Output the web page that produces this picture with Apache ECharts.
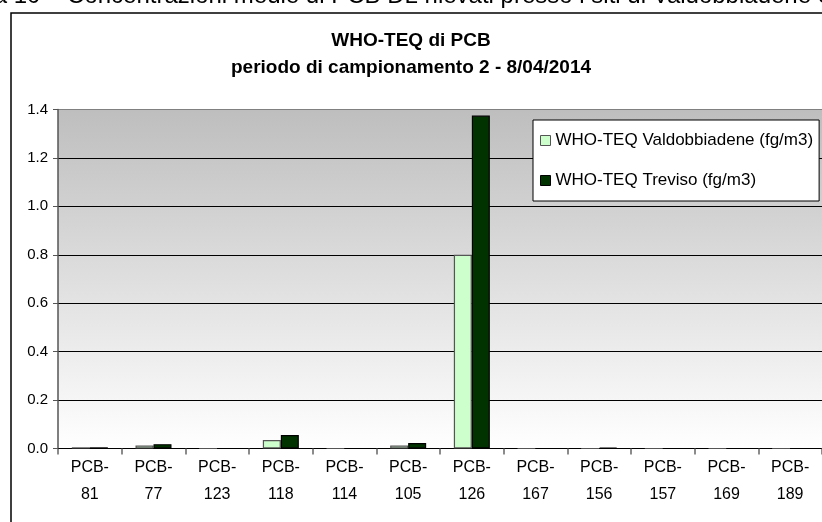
<!DOCTYPE html>
<html><head><meta charset="utf-8">
<script src="https://cdn.jsdelivr.net/npm/echarts@6/dist/echarts.min.js"></script>
<style>html,body{margin:0;padding:0;background:#fff;}#c{width:822px;height:522px;}</style>
</head><body><div id="c"></div>
<script>
const categories = ['PCB-81','PCB-77','PCB-123','PCB-118','PCB-114','PCB-105','PCB-126','PCB-167','PCB-156','PCB-157','PCB-169','PCB-189'];
const valdobbiadene = [0.005, 0.012, 0, 0.035, 0, 0.012, 0.80, 0, 0, 0, 0, 0];
const treviso = [0.005, 0.018, 0, 0.056, 0, 0.023, 1.375, 0, 0.004, 0, 0, 0];
const seriesNames = ['WHO-TEQ Valdobbiadene (fg/m3)', 'WHO-TEQ Treviso (fg/m3)'];
const titleLines = ['WHO-TEQ di PCB', 'periodo di campionamento 2 - 8/04/2014'];
const caption = 'Figura 10 – Concentrazioni medie di PCB DL rilevati presso i siti di Valdobbiadene e Treviso';

const font = '"Liberation Sans", Arial, sans-serif';
const chart = echarts.init(document.getElementById('c'), null, {renderer:'canvas'});
chart.setOption({
  animation: false,
  backgroundColor: '#fff',
  textStyle: {fontFamily: font},
  title: {
    text: titleLines.join('\n'),
    left: 'center', top: 22,
    textStyle: {fontFamily: font, fontSize: 19, fontWeight: 'bold', color: '#000', lineHeight: 27}
  },
  graphic: [
    {type:'text', left: -61, top: -16, style:{text: caption, font: '24px ' + font, fill:'#000'}},
    {type:'rect', shape:{x:11, y:13, width:900, height:600}, style:{fill:'none', stroke:'#000', lineWidth:1.5}, z:10}
  ],
  legend: {
    orient: 'vertical', left: 533, top: 120,
    padding: [12, 6, 12, 7],
    itemGap: 23,
    itemWidth: 10, itemHeight: 10,
    itemStyle: {borderWidth: 1},
    backgroundColor: '#fff', borderColor: '#000', borderWidth: 1,
    textStyle: {fontFamily: font, fontSize: 17, color:'#000'},
    icon: 'rect',
    data: seriesNames
  },
  grid: {
    left: 58, top: 109.5, right: -2, bottom: 73.5,
    show: true,
    borderWidth: 0,
    backgroundColor: {type:'linear', x:0, y:0, x2:0, y2:1,
      colorStops:[{offset:0, color:'#bebebe'},{offset:1, color:'#ffffff'}]}
  },
  xAxis: {
    type:'category', data: categories,
    axisLine:{lineStyle:{color:'#000', width:1.2}},
    axisTick:{show:true, length:6, lineStyle:{color:'#666', width:1.5}},
    axisLabel:{color:'#000', fontSize:16, fontFamily: font, lineHeight: 27, margin: 6,
      formatter: v => v.replace('-', '-\n')},
  },
  yAxis: {
    type:'value', min:0, max:1.4, interval:0.2,
    axisLine:{show:true, lineStyle:{color:'#555', width:1.5}},
    axisTick:{show:true, length:5, lineStyle:{color:'#555'}},
    axisLabel:{color:'#000', fontSize:15, fontFamily: font, margin: 10, formatter: v => v.toFixed(1)},
    splitLine:{show:true, lineStyle:{color:['#000','#000','#000','#000','#000','#000','#000','#808080'], width:1}}
  },
  series: [
    {name: seriesNames[0], type:'bar', data: valdobbiadene, barWidth: 18, barGap: '0%',
      itemStyle:{color:'#ccffcc', borderColor:'#555', borderWidth:1.2}},
    {name: seriesNames[1], type:'bar', data: treviso, barWidth: 18,
      itemStyle:{color:'#003300', borderColor:'#000', borderWidth:1.2}}
  ]
});
</script></body></html>
